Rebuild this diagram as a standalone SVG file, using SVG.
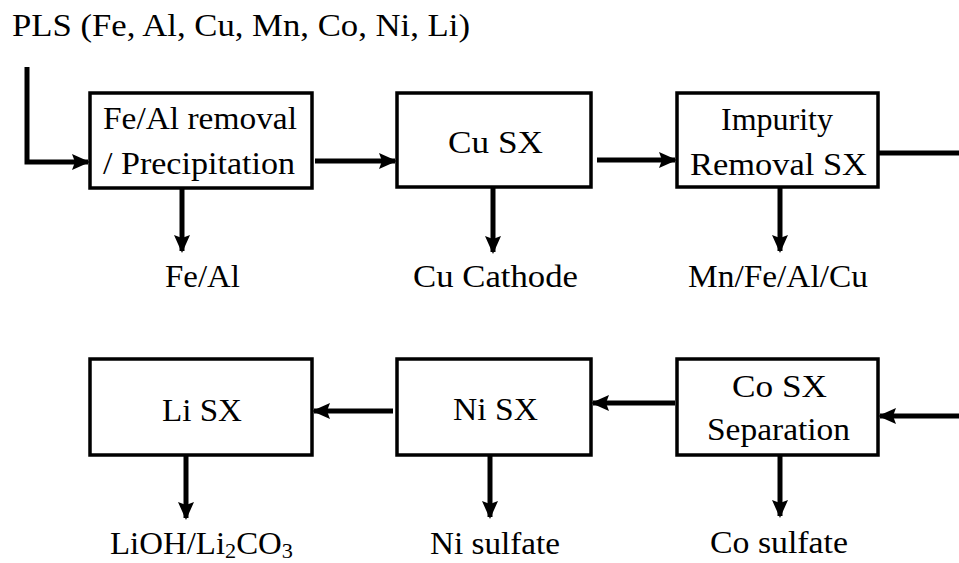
<svg xmlns="http://www.w3.org/2000/svg" width="959" height="563" viewBox="0 0 959 563" font-family="Liberation Serif, serif">
<style>
.box{fill:#fff;stroke:#000;stroke-width:3.5}
.t{font-size:31px;fill:#000}
.c{stroke:#000;stroke-width:5;fill:none}
</style>
<defs>
<marker id="ah" markerUnits="userSpaceOnUse" markerWidth="18" markerHeight="18" refX="16" refY="9" orient="auto" viewBox="0 0 18 18">
<path d="M0,1 L18,9 L0,17 L3,9 Z" fill="#000"/>
</marker>
</defs>
<rect width="959" height="563" fill="#fff"/>
<text class="t" x="12" y="36" textLength="458" lengthAdjust="spacingAndGlyphs">PLS (Fe, Al, Cu, Mn, Co, Ni, Li)</text>
<g id="connectors">
<path class="c" d="M27,67 V162 H88" marker-end="url(#ah)"/>
<path class="c" d="M315,161 H395" marker-end="url(#ah)"/>
<path class="c" d="M597,160 H675" marker-end="url(#ah)"/>
<path class="c" d="M878,153 H959"/>
<path class="c" d="M182,188 V251" marker-end="url(#ah)"/>
<path class="c" d="M493,187 V252" marker-end="url(#ah)"/>
<path class="c" d="M780,187 V251" marker-end="url(#ah)"/>
<path class="c" d="M959,416 H880" marker-end="url(#ah)"/>
<path class="c" d="M675,403 H593" marker-end="url(#ah)"/>
<path class="c" d="M393,411 H314" marker-end="url(#ah)"/>
<path class="c" d="M186,455 V518" marker-end="url(#ah)"/>
<path class="c" d="M490,455 V517" marker-end="url(#ah)"/>
<path class="c" d="M780,455 V516" marker-end="url(#ah)"/>
</g>
<g id="fe-al-removal">
<rect class="box" x="90" y="93" width="222" height="95"/>
<text class="t" x="103" y="129" textLength="194" lengthAdjust="spacingAndGlyphs">Fe/Al removal</text>
<text class="t" x="103" y="174" textLength="192" lengthAdjust="spacingAndGlyphs">/ Precipitation</text>
</g>
<g id="cu-sx">
<rect class="box" x="397" y="93" width="194" height="94"/>
<text class="t" x="448" y="153" textLength="95" lengthAdjust="spacingAndGlyphs">Cu SX</text>
</g>
<g id="impurity-removal">
<rect class="box" x="677" y="93" width="201" height="94"/>
<text class="t" x="721" y="130" textLength="112" lengthAdjust="spacingAndGlyphs">Impurity</text>
<text class="t" x="690" y="175" textLength="177" lengthAdjust="spacingAndGlyphs">Removal SX</text>
</g>
<g id="fe-al-out"><text class="t" x="165" y="287" textLength="75" lengthAdjust="spacingAndGlyphs">Fe/Al</text></g>
<g id="cu-cathode"><text class="t" x="413" y="287" textLength="165" lengthAdjust="spacingAndGlyphs">Cu Cathode</text></g>
<g id="mn-out"><text class="t" x="688" y="287" textLength="180" lengthAdjust="spacingAndGlyphs">Mn/Fe/Al/Cu</text></g>
<g id="li-sx">
<rect class="box" x="90" y="359" width="222" height="96"/>
<text class="t" x="162" y="421" textLength="80" lengthAdjust="spacingAndGlyphs">Li SX</text>
</g>
<g id="ni-sx">
<rect class="box" x="397" y="359" width="194" height="96"/>
<text class="t" x="453" y="420" textLength="85" lengthAdjust="spacingAndGlyphs">Ni SX</text>
</g>
<g id="co-sx">
<rect class="box" x="677" y="359" width="201" height="96"/>
<text class="t" x="732" y="397" textLength="95" lengthAdjust="spacingAndGlyphs">Co SX</text>
<text class="t" x="707" y="440" textLength="143" lengthAdjust="spacingAndGlyphs">Separation</text>
</g>
<g id="li-out"><text class="t" x="110" y="554" textLength="183" lengthAdjust="spacingAndGlyphs">LiOH/Li<tspan font-size="21" dy="4">2</tspan><tspan dy="-4">CO</tspan><tspan font-size="21" dy="4">3</tspan></text></g>
<g id="ni-out"><text class="t" x="430" y="554" textLength="130" lengthAdjust="spacingAndGlyphs">Ni sulfate</text></g>
<g id="co-out"><text class="t" x="710" y="553" textLength="138" lengthAdjust="spacingAndGlyphs">Co sulfate</text></g>
</svg>
